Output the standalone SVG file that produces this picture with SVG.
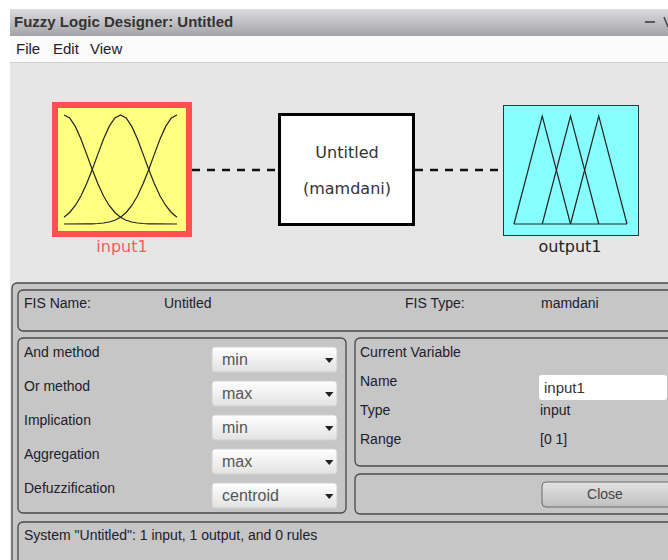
<svg xmlns="http://www.w3.org/2000/svg" width="668" height="560" viewBox="0 0 668 560">
<defs>
<linearGradient id="gTitle" x1="0" y1="0" x2="0" y2="1">
<stop offset="0" stop-color="#dcdce0"/><stop offset="1" stop-color="#a4a4a8"/>
</linearGradient>
<linearGradient id="gDrop" x1="0" y1="0" x2="0" y2="1">
<stop offset="0" stop-color="#ffffff"/><stop offset="1" stop-color="#e2e2e2"/>
</linearGradient>
<linearGradient id="gBtn" x1="0" y1="0" x2="0" y2="1">
<stop offset="0" stop-color="#e2e2e2"/><stop offset="1" stop-color="#c0c0c0"/>
</linearGradient>
</defs>
<style>
.ui{font-family:"Liberation Sans",Arial,sans-serif;font-size:14px;fill:#20202c}
.dd{font-family:"Liberation Sans",Arial,sans-serif;font-size:16px;fill:#555}
.dv{font-family:"DejaVu Sans",Verdana,sans-serif;font-size:16px}
.box{fill:#c6c6c6;stroke:#4a4a4a;stroke-width:1.3}
.drop{fill:url(#gDrop);stroke:#d0d0d0;stroke-width:1}
.arr{fill:#222}
.mf{fill:none;stroke:#222;stroke-width:1.2}
.conn{stroke:#111;stroke-width:2.5;stroke-dasharray:8 7}
</style>
<rect x="0" y="0" width="668" height="560" fill="#ffffff"/>
<g id="window">
<rect x="10" y="9" width="658" height="27" fill="url(#gTitle)"/>
<text x="14" y="27" style="font-family:'Liberation Sans',Arial,sans-serif;font-size:15px;font-weight:bold;fill:#333">Fuzzy Logic Designer: Untitled</text>
<line x1="645" y1="22" x2="655" y2="22" stroke="#333" stroke-width="1.5"/>
<line x1="664" y1="17" x2="668" y2="27" stroke="#444" stroke-width="1.5"/>
<rect x="10" y="36" width="658" height="26" fill="#fbfbfb"/>
<text class="ui" x="16" y="54" style="font-size:15px">File</text>
<text class="ui" x="53" y="54" style="font-size:15px">Edit</text>
<text class="ui" x="90" y="54" style="font-size:15px">View</text>
<rect x="10" y="62" width="658" height="498" fill="#e6e6e6"/>
<line x1="10" y1="62.5" x2="668" y2="62.5" stroke="#d0d0d0" stroke-width="1"/>
</g>
<g id="connectors">
<line class="conn" x1="192" y1="170" x2="278" y2="170"/>
<line class="conn" x1="415" y1="170" x2="503" y2="170"/>
</g>
<g id="input1">
<rect x="55" y="105" width="134" height="129" fill="#ffff80" stroke="#ff5050" stroke-width="6"/>
<polyline class="mf" points="64,115 69.65,118 75.3,126.4 80.95,139.1 86.6,154.1 92.25,169.5 97.9,183.8 103.55,196 109.2,205.5 114.85,212.5 120.5,217.2 126.15,220.2 131.8,222 137.45,223 143.1,223.5 148.75,223.8 154.4,223.9 177,224"/>
<polyline class="mf" points="64,217.2 69.65,212.5 75.3,205.5 80.95,196 86.6,183.8 92.25,169.5 97.9,154.1 103.55,139.1 109.2,126.4 114.85,118 120.5,115 126.15,118 131.8,126.4 137.45,139.1 143.1,154.1 148.75,169.5 154.4,183.8 160.05,196 165.7,205.5 171.35,212.5 177,217.2"/>
<polyline class="mf" points="177,115 171.35,118 165.7,126.4 160.05,139.1 154.4,154.1 148.75,169.5 143.1,183.8 137.45,196 131.8,205.5 126.15,212.5 120.5,217.2 114.85,220.2 109.2,222 103.55,223 97.9,223.5 92.25,223.8 86.6,223.9 64,224"/>
<text class="dv" x="122" y="252" text-anchor="middle" fill="#ff5a5a">input1</text>
</g>
<g id="system">
<rect x="279.5" y="114.5" width="134" height="110" fill="#ffffff" stroke="#000" stroke-width="3"/>
<text class="dv" x="347" y="158" text-anchor="middle" fill="#333">Untitled</text>
<text class="dv" x="347" y="194" text-anchor="middle" fill="#333">(mamdani)</text>
</g>
<g id="output1">
<rect x="503.5" y="105.5" width="135" height="130" fill="#88ffff" stroke="#333" stroke-width="1"/>
<polyline class="mf" points="514,224 542.25,116 570.5,224"/>
<polyline class="mf" points="542.25,224 570.5,116 598.75,224"/>
<polyline class="mf" points="570.5,224 598.75,116 627,224"/>
<line class="mf" x1="514" y1="224" x2="627" y2="224"/>
<text class="dv" x="570" y="252" text-anchor="middle" fill="#222">output1</text>
</g>
<g id="panel">
<rect class="box" x="12" y="283" width="700" height="300" rx="5"/>
</g>
<g id="fis-info">
<rect class="box" x="18" y="290" width="700" height="41" rx="5"/>
<text class="ui" x="24" y="308">FIS Name:</text>
<text class="ui" x="164" y="308">Untitled</text>
<text class="ui" x="405" y="308">FIS Type:</text>
<text class="ui" x="541" y="308">mamdani</text>
</g>
<g id="methods">
<rect class="box" x="18" y="338" width="328" height="175" rx="5"/>
<text class="ui" x="24" y="357">And method</text>
<text class="ui" x="24" y="391">Or method</text>
<text class="ui" x="24" y="425">Implication</text>
<text class="ui" x="24" y="459">Aggregation</text>
<text class="ui" x="24" y="493">Defuzzification</text>
<rect class="drop" x="212" y="347" width="125" height="25" rx="3"/>
<rect class="drop" x="212" y="381" width="125" height="25" rx="3"/>
<rect class="drop" x="212" y="415" width="125" height="25" rx="3"/>
<rect class="drop" x="212" y="449" width="125" height="25" rx="3"/>
<rect class="drop" x="212" y="483" width="125" height="25" rx="3"/>
<text class="dd" x="222" y="365">min</text>
<text class="dd" x="222" y="399">max</text>
<text class="dd" x="222" y="433">min</text>
<text class="dd" x="222" y="467">max</text>
<text class="dd" x="222" y="501">centroid</text>
<polygon class="arr" points="325,358 333.5,358 329.25,363"/>
<polygon class="arr" points="325,392 333.5,392 329.25,397"/>
<polygon class="arr" points="325,426 333.5,426 329.25,431"/>
<polygon class="arr" points="325,460 333.5,460 329.25,465"/>
<polygon class="arr" points="325,494 333.5,494 329.25,499"/>
</g>
<g id="current-variable">
<rect class="box" x="355" y="338" width="330" height="128" rx="5"/>
<text class="ui" x="360" y="357">Current Variable</text>
<text class="ui" x="360" y="386">Name</text>
<rect x="539" y="375" width="128" height="25" rx="3" fill="#ffffff"/>
<text class="ui" x="544" y="393" style="font-size:15px;fill:#333">input1</text>
<text class="ui" x="360" y="415">Type</text>
<text class="ui" x="540" y="415">input</text>
<text class="ui" x="360" y="444">Range</text>
<text class="ui" x="540" y="444">[0 1]</text>
</g>
<g id="close-area">
<rect class="box" x="355" y="474" width="330" height="40" rx="5"/>
<rect x="542" y="482" width="130" height="25" rx="4" fill="url(#gBtn)" stroke="#6a6a6a" stroke-width="1"/>
<text class="ui" x="605" y="499" text-anchor="middle" style="fill:#444">Close</text>
</g>
<g id="status">
<rect class="box" x="18" y="522" width="700" height="60" rx="5"/>
<text class="ui" x="24" y="540">System "Untitled": 1 input, 1 output, and 0 rules</text>
</g>
</svg>
